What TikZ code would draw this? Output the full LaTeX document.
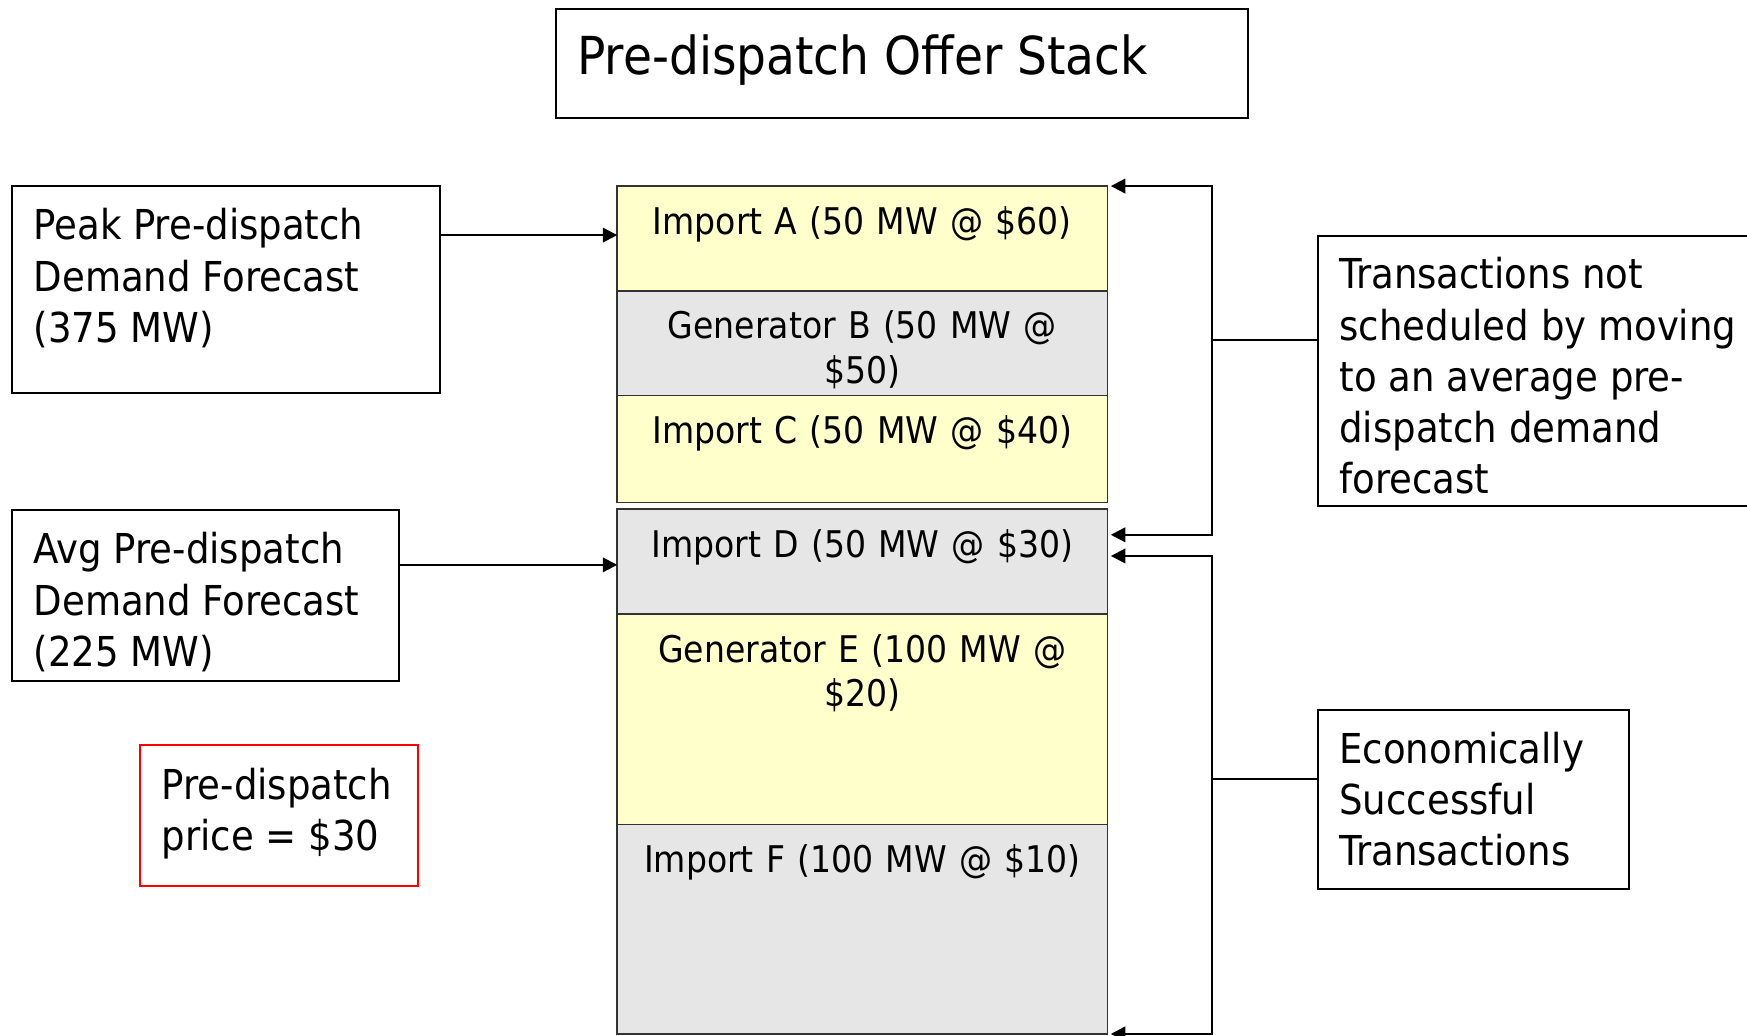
\documentclass[tikz,border=0pt]{standalone}
\usepackage{fontspec}
\setmainfont{DejaVu Sans Condensed}
\usetikzlibrary{arrows.meta}
\definecolor{cyel}{HTML}{FFFFCC}
\definecolor{cgry}{HTML}{E6E6E6}
\definecolor{cbrd}{HTML}{333333}
\tikzset{
  box/.style={draw=black, line width=2pt, inner sep=0pt, outer sep=0pt, anchor=north west},
  redbox/.style={draw=red, line width=1.6pt, inner sep=0pt, outer sep=0pt, anchor=north west},
  cell/.style={draw=cbrd, line width=1.5pt, inner sep=0pt, outer sep=0pt, anchor=north west, minimum width=440pt},
  btxt/.style={font=\fontsize{37}{46}\selectfont, align=left, inner sep=0pt, anchor=north west},
  stxt/.style={font=\fontsize{33}{40}\selectfont, align=center, text width=430pt, inner sep=0pt, anchor=north},
  ttxt/.style={font=\fontsize{47}{56}\selectfont, inner sep=0pt, anchor=base west},
  conn/.style={draw=black, line width=2pt},
  arr/.style={conn, -{Triangle[length=13pt,width=13pt]}}
}
\begin{document}
\begin{tikzpicture}[x=1pt,y=1pt]
\useasboundingbox (0,0) rectangle (1568,-929);
\fill[white] (0,0) rectangle (1568,-929);
% title
\node[box, minimum width=621pt, minimum height=98pt] (title) at (499,-8) {};
\node[ttxt] (titletxt) at ([xshift=19pt,yshift=-59pt]title.north west) {Pre-dispatch Offer Stack};
% left boxes
\node[box, minimum width=384pt, minimum height=186pt] (peak) at (11,-167) {};
\node[btxt] (peaktxt) at ([xshift=19pt,yshift=-15.8pt]peak.north west) {\strut Peak Pre-dispatch\\Demand Forecast\\(375 MW)};
\node[box, minimum width=347pt, minimum height=153pt] (avg) at (11,-458) {};
\node[btxt] (avgtxt) at ([xshift=19pt,yshift=-15.8pt]avg.north west) {\strut Avg Pre-dispatch\\Demand Forecast\\(225 MW)};
\node[redbox, minimum width=249pt, minimum height=126pt] (price) at (126,-669) {};
\node[btxt] (pricetxt) at ([xshift=19pt,yshift=-15.8pt]price.north west) {\strut Pre-dispatch\\price = \$30};
% stack
\node[cell, fill=cyel, minimum height=94pt] (cA) at (554,-167) {};
\node[cell, fill=cgry, minimum height=94pt] (cB) at (554,-261) {};
\node[cell, fill=cyel, minimum height=96pt] (cC) at (554,-355) {};
\node[cell, fill=cgry, minimum height=94pt] (cD) at (554,-457) {};
\node[cell, fill=cyel, minimum height=189pt] (cE) at (554,-551) {};
\node[cell, fill=cgry, minimum height=188pt] (cF) at (554,-740) {};
\node[stxt] (tA) at ([yshift=-15pt]cA.north) {\strut Import A (50 MW @ \$60)};
\node[stxt] (tB) at ([yshift=-15pt]cB.north) {\strut Generator B (50 MW @\\\$50)};
\node[stxt] (tC) at ([yshift=-15pt]cC.north) {\strut Import C (50 MW @ \$40)};
\node[stxt] (tD) at ([yshift=-15pt]cD.north) {\strut Import D (50 MW @ \$30)};
\node[stxt] (tE) at ([yshift=-15pt]cE.north) {\strut Generator E (100 MW @\\\$20)};
\node[stxt] (tF) at ([yshift=-15pt]cF.north) {\strut Import F (100 MW @ \$10)};
% right boxes
\node[box, minimum width=400pt, minimum height=242pt] (rt1) at (1183,-212) {};
\node[btxt] (rt1txt) at ([xshift=19pt,yshift=-14.8pt]rt1.north west) {\strut Transactions not\\scheduled by moving\\to an average pre-\\dispatch demand\\forecast};
\node[box, minimum width=279pt, minimum height=161pt] (rt2) at (1183,-637) {};
\node[btxt] (rt2txt) at ([xshift=19pt,yshift=-15.8pt]rt2.north west) {\strut Economically\\Successful\\Transactions};
% connectors
\coordinate (inA) at ([yshift=3pt]cA.west);
\coordinate (inD) at ([yshift=-3pt]cD.west);
\draw[arr] (peak.east |- inA) -- (inA);
\draw[arr] (avg.east |- inD) -- (inD);
\coordinate (jU) at (1088,-305);
\coordinate (jL) at (1088,-699);
\draw[conn] (rt1.west |- jU) -- (jU);
\draw[conn] (rt2.west |- jL) -- (jL);
\draw[arr] (jU) |- ([xshift=3pt]cA.north east);
\draw[arr] (jU) |- ([xshift=3pt,yshift=-23pt]cD.north east);
\draw[arr] (jL) |- ([xshift=3pt,yshift=-42pt]cD.north east);
\draw[arr] (jL) |- ([xshift=3pt]cF.south east);
\end{tikzpicture}
\end{document}
